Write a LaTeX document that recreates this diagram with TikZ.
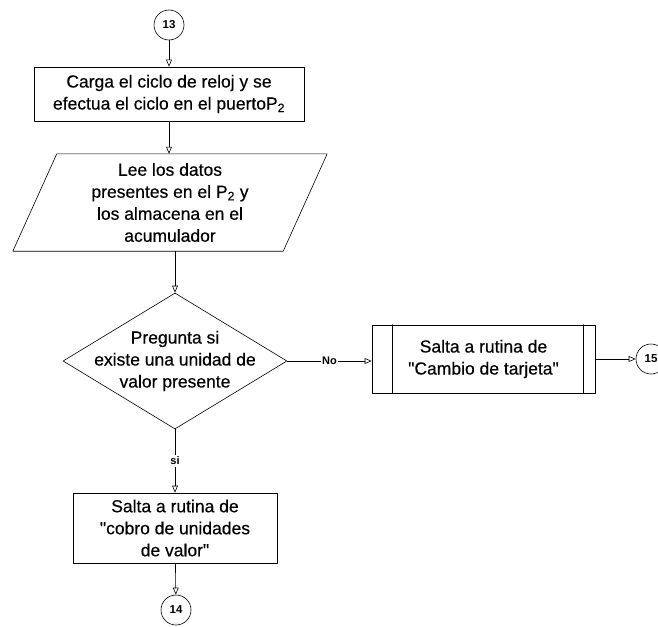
\documentclass[tikz,border=0pt]{standalone}
\usepackage{fontspec}
\setmainfont{Liberation Sans}
\usetikzlibrary{arrows,shapes.geometric}

\newcommand{\cq}{\textquotedbl}

\begin{document}
\begin{tikzpicture}[line cap=round,line join=round,>=open triangle 45,x=1pt,y=-1pt,
		every node/.style={font=\fontsize{17.5}{22}\selectfont\addfontfeature{FakeBold=0.4}},
		caja/.style={draw,rectangle,align=center,inner sep=0pt,line width=0.6pt},
		decision/.style={draw,diamond,inner sep=0pt,minimum width=224pt,minimum height=136pt,line width=0.6pt},
		conector/.style={draw,circle,inner sep=0pt,minimum size=30pt,line width=0.6pt,font=\fontsize{11.5}{12}\selectfont\bfseries},
		etiqueta/.style={fill=white,inner sep=1.5pt,font=\fontsize{11}{12}\selectfont\bfseries},
		flecha/.style={->,line width=0.6pt}]
			\useasboundingbox (0,0) rectangle (658,626);
			% bloques del diagrama
			\node[conector] (c13) at (169,25) {13};
			\node[caja,minimum width=270pt,minimum height=54pt] (carga) at (169,94) {Carga el ciclo de reloj y se\\efectua el ciclo en el puertoP\textsubscript{2}};
			\node[align=center,inner sep=0pt,minimum width=270pt,minimum height=97pt] (lee) at (170,202.5) {Lee los datos\\presentes en el P\textsubscript{2} y\\los almacena en el\\acumulador};
			\draw[line width=0.6pt] ([xshift=22pt]lee.north west) -- ([xshift=22pt]lee.north east) -- ([xshift=-22pt]lee.south east) -- ([xshift=-22pt]lee.south west) -- cycle;
			\node[decision] (preg) at (175,361) {};
			\node[align=center] at (preg) {Pregunta si\\existe una unidad de\\valor presente};
			\node[caja,minimum width=223pt,minimum height=68pt] (cambio) at (483.5,359) {Salta a rutina de\\\cq Cambio de tarjeta\cq};
			\draw[line width=0.6pt] ([xshift=21pt]cambio.north west) -- ([xshift=21pt]cambio.south west);
			\draw[line width=0.6pt] ([xshift=-12pt]cambio.north east) -- ([xshift=-12pt]cambio.south east);
			\node[conector] (c15) at (651,359) {15};
			\node[caja,minimum width=204pt,minimum height=70pt] (cobro) at (175,528) {Salta a rutina de\\\cq cobro de unidades\\de valor\cq};
			\node[conector] (c14) at (176,610) {14};
			% flechas
			\draw[flecha] (c13) -- (carga);
			\draw[flecha] (carga) -- (carga |- lee.north);
			\draw[flecha] (lee.south -| preg) -- (preg.north);
			\draw[flecha] (preg.east) -- node[etiqueta] {No} (cambio.west |- preg.east);
			\draw[flecha] (cambio) -- (c15);
			\draw[flecha] (preg.south) -- node[etiqueta] {si} (cobro);
			\draw[flecha] (cobro) -- (c14);
\end{tikzpicture}
\end{document}
